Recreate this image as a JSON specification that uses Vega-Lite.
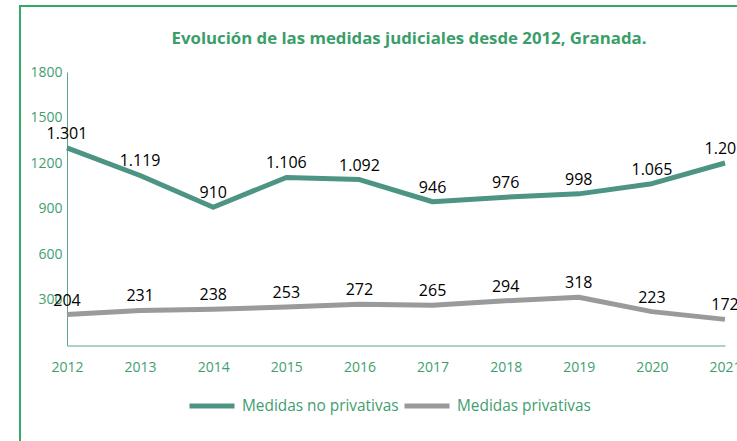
{
  "$schema": "https://vega.github.io/schema/vega-lite/v6.json",
  "width": 778,
  "height": 460,
  "autosize": {"type": "none"},
  "padding": {"left": 20, "top": 6, "right": 0, "bottom": 0},
  "background": "white",
  "config": {
    "view": {"stroke": "#33a867", "strokeWidth": 2},
    "locale": {"number": {"decimal": ",", "thousands": ".", "grouping": [3], "currency": ["", " €"]}},
    "font": "Open Sans"
  },
  "title": {
    "text": "Evolución de las medidas judiciales desde 2012, Granada.",
    "fontSize": 16.8,
    "fontWeight": "bold",
    "color": "#3a9e6a",
    "font": "Open Sans",
    "anchor": "middle",
    "frame": "group",
    "baseline": "middle",
    "offset": -50
  },
  "data": {
    "values": [
      {"year": 2012, "serie": "Medidas no privativas", "value": 1301},
      {"year": 2013, "serie": "Medidas no privativas", "value": 1119},
      {"year": 2014, "serie": "Medidas no privativas", "value": 910},
      {"year": 2015, "serie": "Medidas no privativas", "value": 1106},
      {"year": 2016, "serie": "Medidas no privativas", "value": 1092},
      {"year": 2017, "serie": "Medidas no privativas", "value": 946},
      {"year": 2018, "serie": "Medidas no privativas", "value": 976},
      {"year": 2019, "serie": "Medidas no privativas", "value": 998},
      {"year": 2020, "serie": "Medidas no privativas", "value": 1065},
      {"year": 2021, "serie": "Medidas no privativas", "value": 1201},
      {"year": 2012, "serie": "Medidas privativas", "value": 204},
      {"year": 2013, "serie": "Medidas privativas", "value": 231},
      {"year": 2014, "serie": "Medidas privativas", "value": 238},
      {"year": 2015, "serie": "Medidas privativas", "value": 253},
      {"year": 2016, "serie": "Medidas privativas", "value": 272},
      {"year": 2017, "serie": "Medidas privativas", "value": 265},
      {"year": 2018, "serie": "Medidas privativas", "value": 294},
      {"year": 2019, "serie": "Medidas privativas", "value": 318},
      {"year": 2020, "serie": "Medidas privativas", "value": 223},
      {"year": 2021, "serie": "Medidas privativas", "value": 172}
    ]
  },
  "encoding": {
    "x": {
      "field": "year",
      "type": "quantitative",
      "scale": {"domain": [2012, 2021], "range": [47, 705], "nice": false, "zero": false},
      "axis": {
        "orient": "bottom",
        "offset": -120.5,
        "values": [2012, 2013, 2014, 2015, 2016, 2017, 2018, 2019, 2020, 2021],
        "format": "d",
        "title": null,
        "grid": false,
        "ticks": false,
        "labelFlush": false,
        "labelOverlap": false,
        "domainColor": "#5aa882",
        "labelColor": "#3f9e6f",
        "labelFont": "Open Sans",
        "labelFontSize": 14,
        "labelPadding": 15
      }
    },
    "y": {
      "field": "value",
      "type": "quantitative",
      "scale": {"domain": [0, 1800], "range": [339.5, 66], "nice": false},
      "axis": {
        "orient": "left",
        "offset": -47,
        "values": [300, 600, 900, 1200, 1500, 1800],
        "format": "d",
        "title": null,
        "grid": false,
        "ticks": false,
        "labelFlush": false,
        "domainColor": "#5aa882",
        "labelColor": "#3f9e6f",
        "labelFont": "Open Sans",
        "labelFontSize": 14,
        "labelPadding": 5
      }
    }
  },
  "layer": [
    {
      "mark": {"type": "line", "strokeWidth": 5, "strokeJoin": "round", "strokeCap": "butt"},
      "encoding": {
        "color": {
          "field": "serie",
          "type": "nominal",
          "scale": {"domain": ["Medidas no privativas", "Medidas privativas"], "range": ["#4e9484", "#9a9a9a"]},
          "legend": {
            "orient": "none",
            "legendX": 167,
            "legendY": 375,
            "direction": "horizontal",
            "title": null,
            "symbolType": "stroke",
            "symbolSize": 2025,
            "symbolStrokeWidth": 5,
            "labelFont": "Open Sans",
            "labelFontSize": 15.4,
            "labelColor": "#3f9e6f",
            "labelOffset": 5,
            "columnPadding": -5
          }
        }
      }
    },
    {
      "mark": {"type": "text", "dy": -14, "fontSize": 16, "font": "Open Sans", "baseline": "middle", "color": "#000000"},
      "encoding": {
        "text": {"field": "value", "type": "quantitative", "format": ",d"}
      }
    }
  ]
}
